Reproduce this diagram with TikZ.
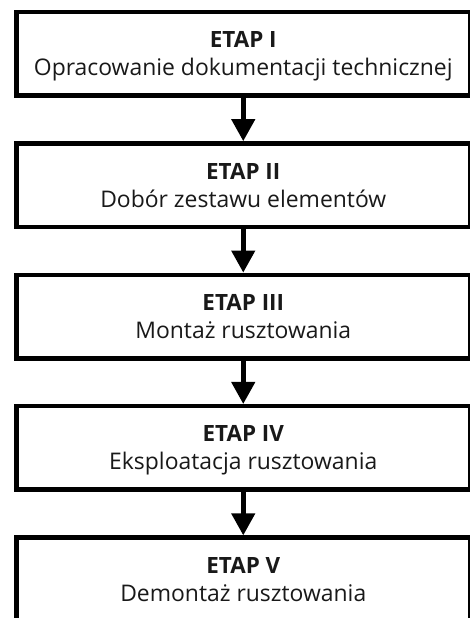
\documentclass[tikz,border=0pt]{standalone}
\usepackage{fontspec}
\setmainfont{Open Sans}
\usetikzlibrary{arrows.meta}
\begin{document}
\begin{tikzpicture}[x=1bp,y=-1bp,
  stage/.style={draw=black, line width=4.5bp, minimum width=453.5bp, minimum height=83.5bp, inner sep=0pt},
  head/.style={anchor=base, font=\bfseries\fontsize{22.5}{26}\selectfont, inner sep=0pt, text=black!90},
  desc/.style={anchor=base, font=\fontsize{23}{27}\selectfont, inner sep=0pt, text=black!90},
  flow/.style={line width=4.5bp, -{Triangle[width=23bp,length=22bp]}}]
\useasboundingbox (0,0) rectangle (470,618);
\clip (0,0) rectangle (470,618);
\fill[white] (0,0) rectangle (470,618);
\node[stage] (b1) at (243.25, 53.75) {};
\node[stage] (b2) at (243.25, 185.15) {};
\node[stage] (b3) at (243.25, 316.55) {};
\node[stage] (b4) at (243.25, 447.95) {};
\node[stage] (b5) at (243.25, 579.35) {};
\node[head] (h1) at ([yshift=-38bp]b1.north) {ETAP I};
\node[desc] (d1) at ([yshift=-66bp]b1.north) {Opracowanie dokumentacji technicznej};
\node[head] (h2) at ([yshift=-38bp]b2.north) {ETAP II};
\node[desc] (d2) at ([yshift=-66bp]b2.north) {Dobór zestawu elementów};
\node[head] (h3) at ([yshift=-38bp]b3.north) {ETAP III};
\node[desc] (d3) at ([yshift=-66bp]b3.north) {Montaż rusztowania};
\node[head] (h4) at ([yshift=-38bp]b4.north) {ETAP IV};
\node[desc] (d4) at ([yshift=-66bp]b4.north) {Eksploatacja rusztowania};
\node[head] (h5) at ([yshift=-38bp]b5.north) {ETAP V};
\node[desc] (d5) at ([yshift=-66bp]b5.north) {Demontaż rusztowania};
\draw[flow] (b1.south) -- (b2.north);
\draw[flow] (b2.south) -- (b3.north);
\draw[flow] (b3.south) -- (b4.north);
\draw[flow] (b4.south) -- (b5.north);
\end{tikzpicture}
\end{document}
